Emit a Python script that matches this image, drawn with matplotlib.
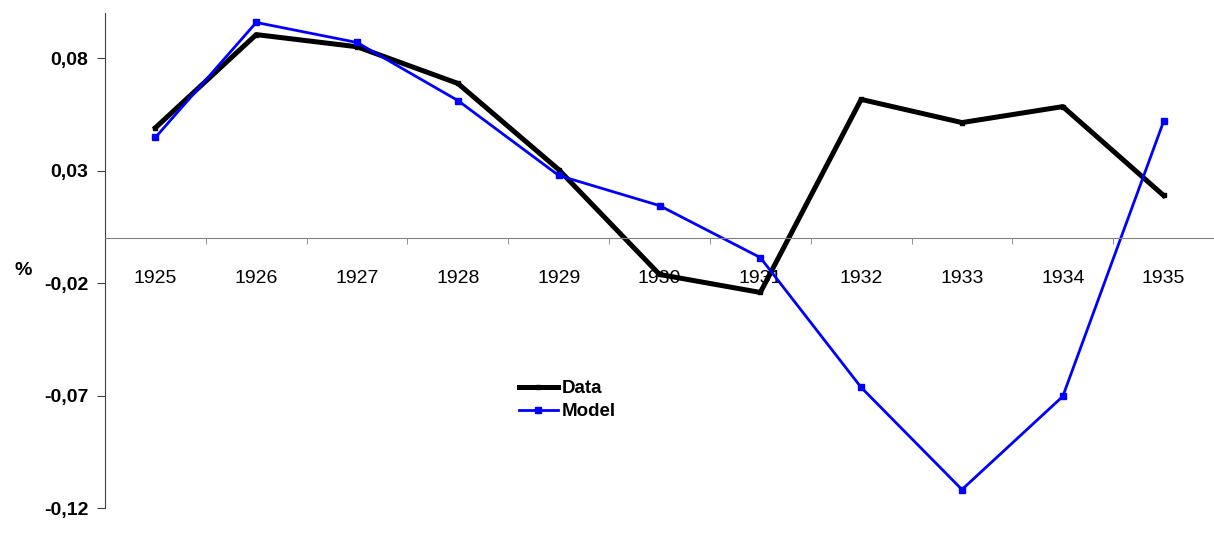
import matplotlib.pyplot as plt
import numpy as np

plt.rcParams['font.family'] = ['Liberation Sans', 'DejaVu Sans']

years = ['1925', '1926', '1927', '1928', '1929', '1930', '1931', '1932', '1933', '1934', '1935']
data = [0.049, 0.0904, 0.085, 0.0687, 0.0304, -0.0162, -0.0242, 0.0616, 0.0513, 0.0584, 0.0189]
model = [0.0447, 0.0958, 0.0869, 0.0611, 0.0278, 0.0144, -0.0087, -0.0664, -0.1118, -0.0704, 0.0518]
y_ticks = [0.08, 0.03, -0.02, -0.07, -0.12]
y_labels = ['0,08', '0,03', '-0,02', '-0,07', '-0,12']

fig = plt.figure(figsize=(12.14, 5.58), dpi=100)
ax = fig.add_axes([0.0865, 0.0896, 0.9135, 0.8871])

x = np.arange(len(years))
ax.plot(x, data, color='black', linewidth=3.6, marker='s', markersize=3.5, label='Data')
ax.plot(x, model, color='#0000ff', linewidth=2.0, marker='s', markersize=5, label='Model')

ax.set_xlim(-0.5, 10.5)
ax.set_ylim(-0.12, 0.10)

ax.spines['top'].set_visible(False)
ax.spines['right'].set_visible(False)
ax.spines['bottom'].set_position(('data', 0))
ax.spines['bottom'].set_color('#808080')
ax.spines['left'].set_color('#404040')

ax.set_yticks(y_ticks)
ax.set_yticklabels(y_labels, fontweight='bold', fontsize=14)
ax.tick_params(axis='y', length=6, color='#404040', pad=6)

ax.set_xticks(x)
ax.set_xticklabels(years, fontsize=14)
ax.tick_params(axis='x', which='major', length=0, pad=23)
ax.set_xticks(np.arange(0.5, 10.5, 1), minor=True)
ax.tick_params(axis='x', which='minor', length=4, color='#808080', direction='out')

fig.text(0.012, 0.515, '%', fontweight='bold', fontsize=14, ha='left', va='center')

ax.legend(loc='upper left', bbox_to_anchor=(0.373, 0.258), frameon=False,
          prop={'weight': 'bold', 'size': 13.5}, handlelength=2.1, handletextpad=0.2,
          labelspacing=0.3, borderpad=0, borderaxespad=0)

fig.savefig('out.png', dpi=100)
